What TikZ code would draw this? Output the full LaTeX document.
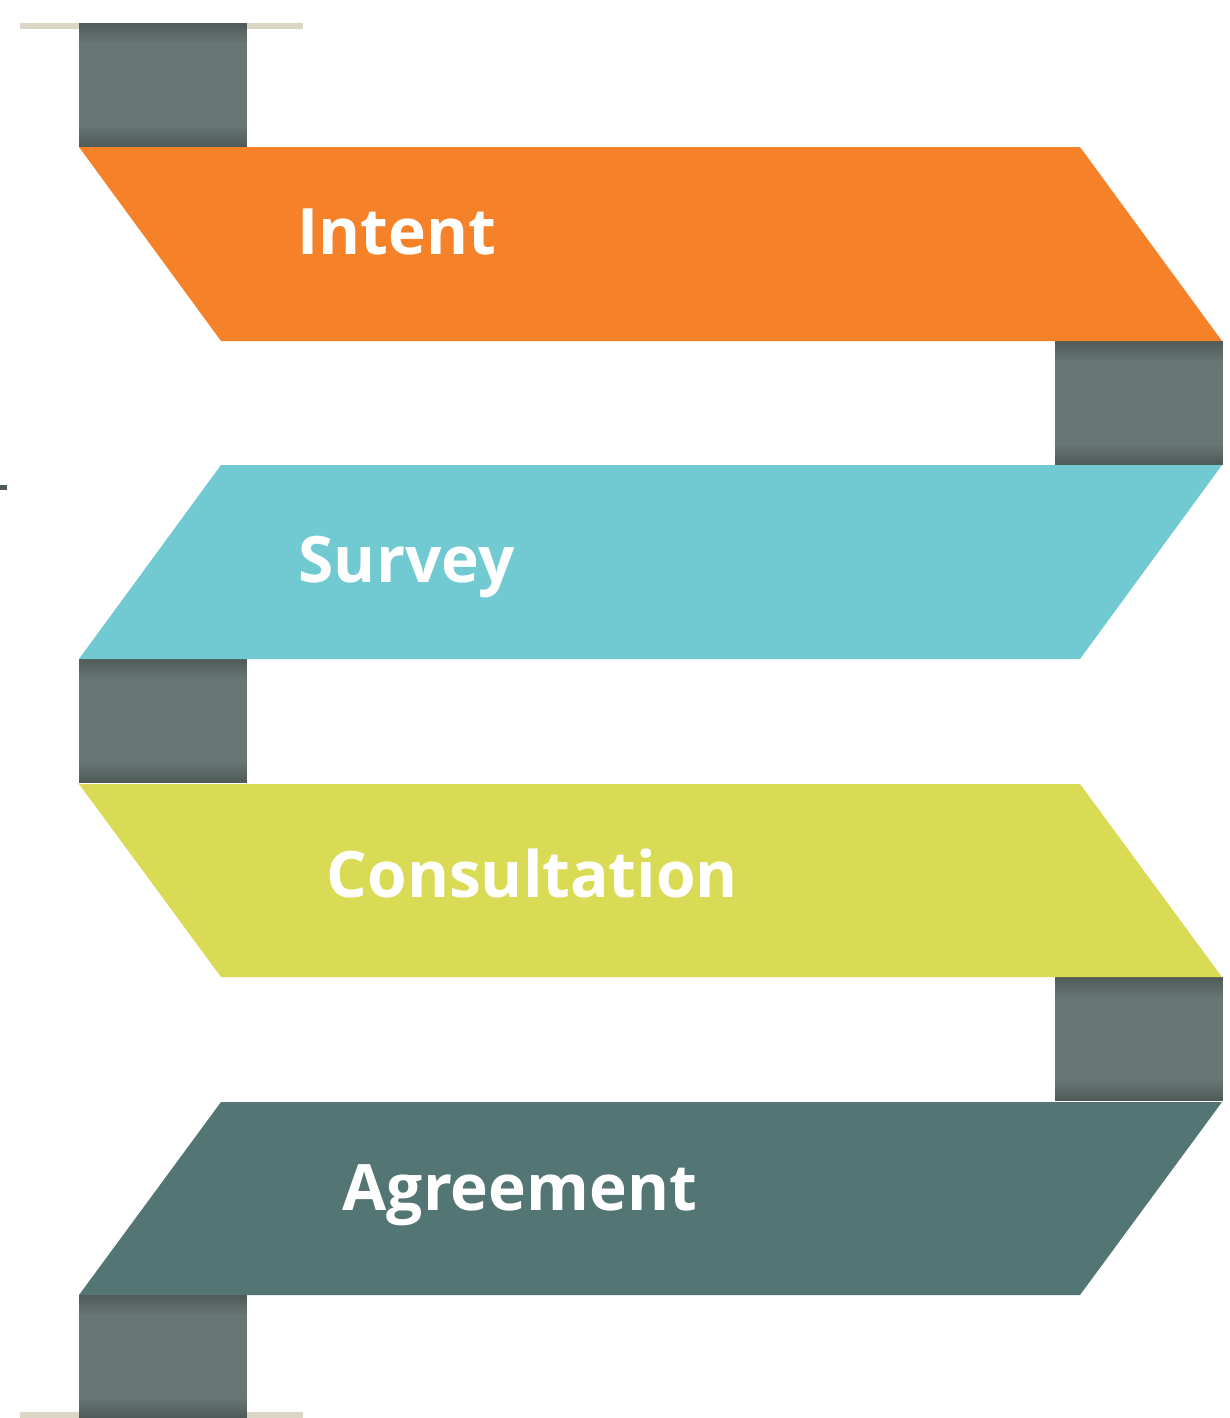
\documentclass[tikz,border=0pt]{standalone}
\usepackage{fontspec}
\setmainfont{Open Sans}
\usepackage{tikz}
\usetikzlibrary{%
  positioning,
}
\definecolor{bandorange}{HTML}{F58229}
\definecolor{bandcyan}{HTML}{71CAD1}
\definecolor{bandyellow}{HTML}{DADB55}
\definecolor{bandteal}{HTML}{537675}
\definecolor{tabgray}{HTML}{687674}
\definecolor{tabdark}{HTML}{4F5B58}
\definecolor{rodbeige}{HTML}{DCD6C6}

\begin{document}
\begin{tikzpicture}[
    x = 0.01cm, y = -0.01cm,
    steplabel/.style = {
      anchor = base west,
      inner sep = 0pt,
      text = white,
      font = \fontsize{18.2}{20}\selectfont\bfseries,
    },
  ]
  \useasboundingbox (0,0) rectangle (1229,1418);

  % rods at the two ends
  \fill[rodbeige] (20,23) rectangle (303,29);
  \fill[rodbeige] (20,1412) rectangle (303,1418);
  \fill[tabdark] (0,485) rectangle (7,490);

  % folded tabs, darker towards the folds
  \foreach \x/\y in {79/23, 1055/341, 79/659, 1055/977, 79/1295} {
    \fill[tabgray] (\x,\y) rectangle ++(168,124);
    \foreach \i in {0,...,9} {
      \pgfmathsetmacro{\shadeamt}{100-10*\i}
      \fill[tabdark!\shadeamt!tabgray] (\x,\y) ++(0,2*\i) rectangle ++(168,2);
      \fill[tabdark!\shadeamt!tabgray] (\x,\y) ++(0,122-2*\i) rectangle ++(168,2);
    }
  }

  % ribbons
  \fill[bandorange] (79,147) -- (1080,147) -- (1222,341) -- (221,341) -- cycle;
  \fill[bandcyan] (221,465) -- (1222,465) -- (1080,659) -- (79,659) -- cycle;
  \fill[bandyellow] (79,784) -- (1080,784) -- (1222,977) -- (221,977) -- cycle;
  \fill[bandteal] (221,1102) -- (1222,1102) -- (1080,1295) -- (79,1295) -- cycle;

  \node[steplabel] (intent) at (297,254) {Intent};
  \node[steplabel] (survey) at (298,582) {Survey};
  \node[steplabel] (consult) at (326,897) {Consultation};
  \node[steplabel] (agree) at (342,1210) {Agreement};
\end{tikzpicture}
\end{document}
